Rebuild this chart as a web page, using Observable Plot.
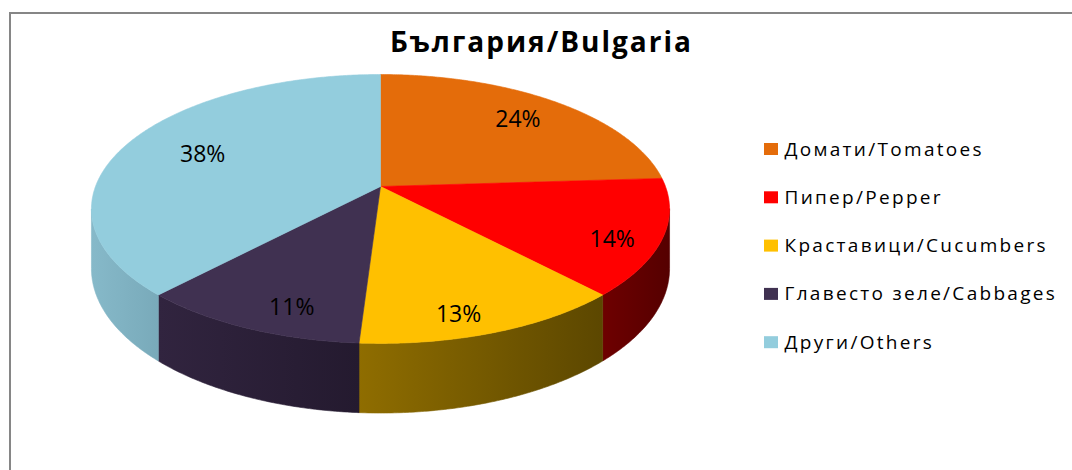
<!DOCTYPE html>
<html><head><meta charset="utf-8">
<script src="https://cdn.jsdelivr.net/npm/d3@7"></script>
<script src="https://cdn.jsdelivr.net/npm/@observablehq/plot@0.6"></script>
<style>
html,body{margin:0;padding:0;background:#fff;overflow:hidden}
#wrap{position:relative;width:1072px;height:470px}
#chart{position:absolute;left:0;top:0}
#frame{position:absolute;left:9px;top:12px;width:1100px;height:500px;border-left:2px solid #868686;border-top:2px solid #868686;}
</style></head><body>
<div id="wrap"><div id="chart"></div><div id="frame"></div></div>
<script>
// ---- data ----
const title = "България/Bulgaria";
const categories = ["Домати/Tomatoes", "Пипер/Pepper", "Краставици/Cucumbers", "Главесто зеле/Cabbages", "Други/Others"];
const values = [24, 14, 13, 11, 38];
const labels = ["24%", "14%", "13%", "11%", "38%"];
const colors = ["#E46C0A", "#FF0000", "#FFC000", "#403151", "#93CDDD"];
const sideLight = ["#8A3F06", "#6E0000", "#8F6D00", "#31243F", "#86B9C9"];
const sideDark = ["#6A3004", "#550000", "#5C4700", "#241A2F", "#79AABA"];

// ---- layout ----
const W = 1072, H = 470;
const cx = 380, cy = 186, A = 285, B = 130.7, k = 0.167, depthPx = 58;
const xs = px => (px - cx) / A, ys = py => (py - cy) / B;
const depth = depthPx / B;
const proj = (u, v) => [u / (1 - k * v), v / (1 - k * v)];
const deg = Math.PI / 180;

const total = d3.sum(values);
let acc = 0;
const slices = values.map((v, i) => {
  const a0 = acc / total * 360; acc += v; const a1 = acc / total * 360;
  return {i, a0, a1, mid: (a0 + a1) / 2};
});
const arcPts = (a0, a1) => {
  const n = Math.max(2, Math.ceil((a1 - a0) / 0.5));
  return d3.range(n + 1).map(j => {
    const t = (a0 + (a1 - a0) * j / n) * deg;
    return {u: Math.sin(t), v: -Math.cos(t)};
  });
};

// top faces
const tops = slices.map(s => {
  const pts = [{x: 0, y: 0}];
  for (const p of arcPts(s.a0, s.a1)) { const [x, y] = proj(p.u, p.v); pts.push({x, y}); }
  pts.push({x: 0, y: 0});
  return pts;
});
// visible side walls
const vis0 = Math.acos(-k) / deg, vis1 = 360 - vis0;
const sides = slices.map(s => {
  const a0 = Math.max(s.a0, vis0), a1 = Math.min(s.a1, vis1);
  if (a1 <= a0) return null;
  const arc = arcPts(a0, a1);
  const top = arc.map(p => { const [x, y] = proj(p.u, p.v); return {x, y}; });
  const bot = arc.map(p => { const [x, y] = proj(p.u, p.v); return {x, y: y + depth / (1 - k * p.v)}; }).reverse();
  return [...top, ...bot, top[0]];
});
// percentage label anchors
const labelData = slices.map(s => {
  const t = s.mid * deg, sn = Math.sin(t), cs = -Math.cos(t);
  const r = 0.7 + 0.15 * Math.max(0, sn) ** 2;
  const [x, y] = proj(r * sn, r * cs);
  return {x, y: y + 30 / B * Math.max(0, cs), label: labels[s.i]};
});
const legendData = categories.map((c, i) => ({c, i, yc: 149 + i * 48.3}));

const marks = [];
sides.forEach((pts, i) => {
  if (pts) marks.push(Plot.line(pts, {x: "x", y: "y", fill: `url(#side${i})`, stroke: `url(#side${i})`, strokeWidth: 0.6}));
});
tops.forEach((pts, i) => {
  marks.push(Plot.line(pts, {x: "x", y: "y", fill: colors[i], stroke: colors[i], strokeWidth: 0.6}));
});
marks.push(Plot.text(labelData, {x: "x", y: "y", text: "label", fontSize: 23, fontFamily: "Open Sans", fill: "#000"}));
marks.push(Plot.text([title], {x: xs(541), y: ys(43), text: d => d, fontSize: 28, fontWeight: "bold", fontFamily: "Open Sans", fill: "#000"}));
marks.push(Plot.rect(legendData, {x1: xs(764), x2: xs(778), y1: d => ys(d.yc - 6), y2: d => ys(d.yc + 6), fill: d => colors[d.i]}));
marks.push(Plot.text(legendData, {x: xs(784), y: d => ys(d.yc), text: "c", textAnchor: "start", fontSize: 19, fontFamily: "Open Sans", fill: "#000"}));

const svg = Plot.plot({
  width: W, height: H, margin: 0,
  x: {domain: [xs(0), xs(W)], range: [0, W], axis: null},
  y: {domain: [ys(0), ys(H)], range: [0, H], axis: null},
  color: {type: "identity"},
  style: {background: "transparent"},
  marks
});
const defs = d3.select(svg).insert("defs", ":first-child");
colors.forEach((c, i) => {
  const g = defs.append("linearGradient").attr("id", `side${i}`).attr("x1", 0).attr("x2", 1).attr("y1", 0).attr("y2", 0);
  g.append("stop").attr("offset", 0).attr("stop-color", sideLight[i]);
  g.append("stop").attr("offset", 1).attr("stop-color", sideDark[i]);
});
d3.select(svg).selectAll("text").each(function () {
  const t = this.textContent;
  if (categories.includes(t)) this.setAttribute("letter-spacing", "2.3");
  else if (t === title) this.setAttribute("letter-spacing", "2");
});
document.getElementById("chart").appendChild(svg);
</script></body></html>
